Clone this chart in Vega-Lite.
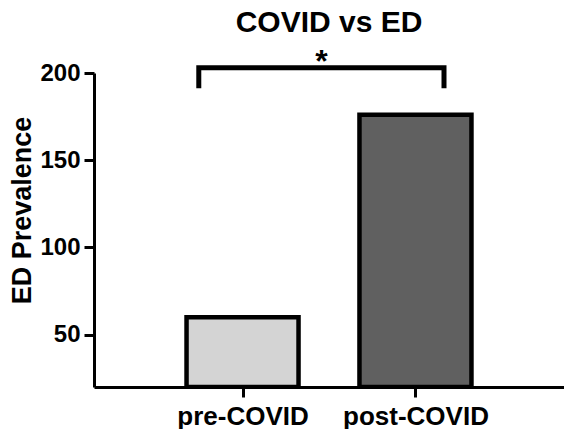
{
  "$schema": "https://vega.github.io/schema/vega-lite/v6.json",
  "width": 470,
  "height": 314,
  "autosize": "none",
  "padding": {"left": 94, "top": 73, "right": 0, "bottom": 42},
  "background": "white",
  "config": {
    "view": {"stroke": null},
    "font": "Liberation Sans"
  },
  "title": {
    "text": "COVID vs ED",
    "fontSize": 30,
    "fontWeight": "bold",
    "color": "black",
    "anchor": "middle",
    "offset": 8
  },
  "datasets": {
    "bars": [
      {"group": "pre-COVID", "pos": 1, "prevalence": 60},
      {"group": "post-COVID", "pos": 2, "prevalence": 176}
    ],
    "bracket": [
      {"order": 1, "x": 0.747, "y": 191.2},
      {"order": 2, "x": 0.747, "y": 203},
      {"order": 3, "x": 2.165, "y": 203},
      {"order": 4, "x": 2.165, "y": 191.2}
    ],
    "sig": [
      {"x": 1.456, "y": 200.5, "label": "*"}
    ]
  },
  "layer": [
    {
      "data": {"name": "bars"},
      "mark": {"type": "bar", "width": 112, "stroke": "black", "strokeWidth": 4.5, "clip": true},
      "encoding": {
        "x": {
          "field": "pos",
          "type": "quantitative",
          "scale": {"domain": [0.17, 2.83], "nice": false, "zero": false},
          "axis": {
            "values": [1, 2],
            "labelExpr": "datum.value == 1 ? 'pre-COVID' : 'post-COVID'",
            "title": null,
            "grid": false,
            "domainColor": "black",
            "domainWidth": 3,
            "tickColor": "black",
            "tickWidth": 3,
            "tickSize": 10,
            "labelFontSize": 26,
            "labelFontWeight": "bold",
            "labelColor": "black",
            "labelPadding": 6,
            "labelFlush": false
          }
        },
        "y": {
          "field": "prevalence",
          "type": "quantitative",
          "scale": {"domain": [20, 200], "nice": false, "zero": false},
          "axis": {
            "values": [50, 100, 150, 200],
            "title": "ED Prevalence",
            "titleFontSize": 27,
            "titleFontWeight": "bold",
            "titleColor": "black",
            "titleX": -72,
            "titleY": 137,
            "titleAlign": "center",
            "titleBaseline": "middle",
            "titleAngle": -90,
            "grid": false,
            "domainColor": "black",
            "domainWidth": 3,
            "tickColor": "black",
            "tickWidth": 3,
            "tickSize": 10,
            "labelFontSize": 24,
            "labelFontWeight": "bold",
            "labelColor": "black",
            "labelPadding": 4
          }
        },
        "y2": {"datum": 20},
        "color": {
          "field": "group",
          "type": "nominal",
          "scale": {"domain": ["pre-COVID", "post-COVID"], "range": ["#d4d4d4", "#606060"]},
          "legend": null
        }
      }
    },
    {
      "data": {"name": "bracket"},
      "mark": {"type": "line", "color": "black", "strokeWidth": 5, "strokeJoin": "miter", "strokeCap": "butt", "clip": false},
      "encoding": {
        "x": {"field": "x", "type": "quantitative"},
        "y": {"field": "y", "type": "quantitative"},
        "order": {"field": "order"}
      }
    },
    {
      "data": {"name": "sig"},
      "mark": {"type": "text", "fontSize": 32, "fontWeight": "bold", "color": "black", "baseline": "alphabetic", "align": "center"},
      "encoding": {
        "x": {"field": "x", "type": "quantitative"},
        "y": {"field": "y", "type": "quantitative"},
        "text": {"field": "label"}
      }
    }
  ]
}
